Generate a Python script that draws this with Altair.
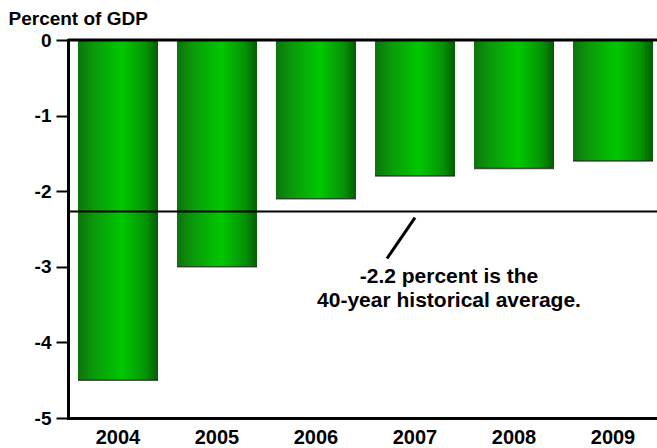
import altair as alt
import pandas as pd

years = ["2004", "2005", "2006", "2007", "2008", "2009"]
deficits = [-4.5, -3.0, -2.1, -1.8, -1.7, -1.6]
avg_value = -2.27
y_ticks = [0, -1, -2, -3, -4, -5]
annotation_lines = ["-2.2 percent is the", "40-year historical average."]
leader_top = -2.35
leader_bottom = -2.89
annotation_y = -2.99

FONT = "Liberation Sans"

df = pd.DataFrame({"year": years, "value": deficits})

gradient = alt.Gradient(
    gradient="linear", x1=0, x2=1, y1=0, y2=0,
    stops=[
        alt.GradientStop(offset=0.0, color="#0d730d"),
        alt.GradientStop(offset=0.2, color="#0a9a0a"),
        alt.GradientStop(offset=0.55, color="#00c800"),
        alt.GradientStop(offset=0.85, color="#059205"),
        alt.GradientStop(offset=1.0, color="#035c03"),
    ],
)

x_enc = alt.X(
    "year:N",
    sort=years,
    scale=alt.Scale(range=[0, 595], paddingInner=0.192, paddingOuter=0.101),
    axis=alt.Axis(
        title=None, ticks=False, labelAngle=0, labelFont=FONT, labelFontSize=20,
        labelFontWeight="bold", labelColor="black", labelPadding=9,
        domainColor="black", domainWidth=3, domainCap="square",
    ),
)
y_enc = alt.Y(
    "value:Q",
    scale=alt.Scale(domain=[-5, 0], nice=False),
    axis=alt.Axis(
        values=y_ticks,
        labelExpr="datum.value < 0 ? '-' + abs(datum.value) : '' + datum.value",
        grid=False, tickSize=12, tickWidth=2,
        tickColor="black", labelFont=FONT, labelFontSize=19, labelFontWeight="bold",
        labelColor="black", labelPadding=5, domainColor="black", domainWidth=3,
        domainCap="square",
        title="Percent of GDP", titleAngle=0, titleAlign="left", titleBaseline="alphabetic",
        titleX=-60, titleY=-16, titleFont=FONT, titleFontSize=19, titleFontWeight="bold",
        titleColor="black",
    ),
)

bars = alt.Chart(df).mark_bar(fill=gradient).encode(x=x_enc, y=y_enc, y2=alt.Y2(datum=0))
edges = alt.Chart(df).mark_tick(color="#1a1a1a", thickness=1.5, size=80).encode(
    x=alt.X("year:N", sort=years), y="value:Q"
)

zero_rule = alt.Chart(pd.DataFrame({"v": [0]})).mark_rule(
    color="black", strokeWidth=3
).encode(y="v:Q")
avg_rule = alt.Chart(pd.DataFrame({"v": [avg_value]})).mark_rule(
    color="black", strokeWidth=2
).encode(y="v:Q")

leader = alt.Chart(pd.DataFrame({"a": [leader_top], "b": [leader_bottom]})).mark_rule(
    color="black", strokeWidth=3
).encode(x=alt.value(347), x2=alt.value(319), y="a:Q", y2="b:Q")

note = alt.Chart(pd.DataFrame({"a": [annotation_y]})).mark_text(
    text=annotation_lines, font=FONT, fontSize=21, fontWeight="bold", color="black",
    align="center", baseline="top", lineHeight=24,
).encode(x=alt.value(381), y="a:Q")

chart = alt.layer(bars, edges, avg_rule, zero_rule, leader, note).properties(
    width=589, height=378,
    autosize=alt.AutoSizeParams(type="none"),
    padding={"left": 68, "top": 40, "right": 0, "bottom": 30},
    background="white",
).configure_view(stroke=None)

chart.save("out.html", embed_options={"renderer": "svg", "actions": False})
